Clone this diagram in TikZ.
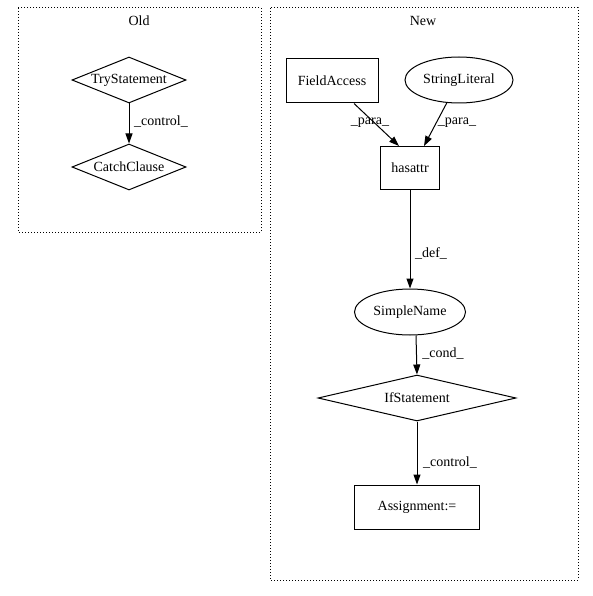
\documentclass[tikz,border=0pt]{standalone}
\usepackage{fontspec}
\setmainfont{Liberation Serif}
\usetikzlibrary{shapes.geometric,arrows.meta}
\begin{document}
\begin{tikzpicture}[x=1pt,y=-1pt,
  every node/.style={font=\fontsize{14}{16}\selectfont},
  box/.style={draw,rectangle,inner sep=0pt,line width=1pt},
  ell/.style={draw,ellipse,inner sep=0pt,line width=1pt},
  dia/.style={draw,diamond,inner sep=0pt,aspect=3,line width=1pt},
  cluster/.style={draw,dotted,line width=1pt},
  edge/.style={-{Triangle[length=10pt,width=7pt]},line width=1pt},
  lab/.style={inner sep=0pt}]
\useasboundingbox (0,0) rectangle (593,596);
\draw[cluster] (18,8) rectangle (261,232);
\draw[cluster] (270,8) rectangle (578,580);
\node (tOld) at (139,21) {Old};
\node (tNew) at (423,21) {New};
\node[dia,minimum width=114pt,minimum height=46pt] (try) at (129,80) {TryStatement};
\node[dia,minimum width=114pt,minimum height=46pt] (catch) at (129,167) {CatchClause};
\node[box,minimum width=92pt,minimum height=44pt] (fa) at (332,81) {FieldAccess};
\node[ell,minimum width=108pt,minimum height=46pt] (sl) at (459,80) {StringLiteral};
\node[box,minimum width=59pt,minimum height=43pt] (has) at (410,168) {hasattr};
\node[ell,minimum width=111pt,minimum height=46pt] (sn) at (410,312) {SimpleName};
\node[dia,minimum width=198pt,minimum height=46pt] (ifs) at (417,398) {IfStatement};
\node[box,minimum width=125pt,minimum height=44pt] (asg) at (417,507) {Assignment:=};
\draw[edge] (try) -- (catch);
\node[lab] (l1) at (161,122) {\_control\_};
\draw[edge] (fa.south -| 354,0) -- (has.north -| 399,0);
\node[lab] (l2) at (370,123) {\_para\_};
\draw[edge] (sl.south -| 447,0) ++(0,-1) -- (has.north -| 424,0);
\node[lab] (l3) at (457,123) {\_para\_};
\draw[edge] (has) -- (sn);
\node[lab] (l4) at (431,253) {\_def\_};
\draw[edge] (sn.south -| 416,0) -- (ifs.north);
\node[lab] (l5) at (443,354) {\_cond\_};
\draw[edge] (ifs) -- (asg);
\node[lab] (l6) at (450,463) {\_control\_};
\end{tikzpicture}
\end{document}
